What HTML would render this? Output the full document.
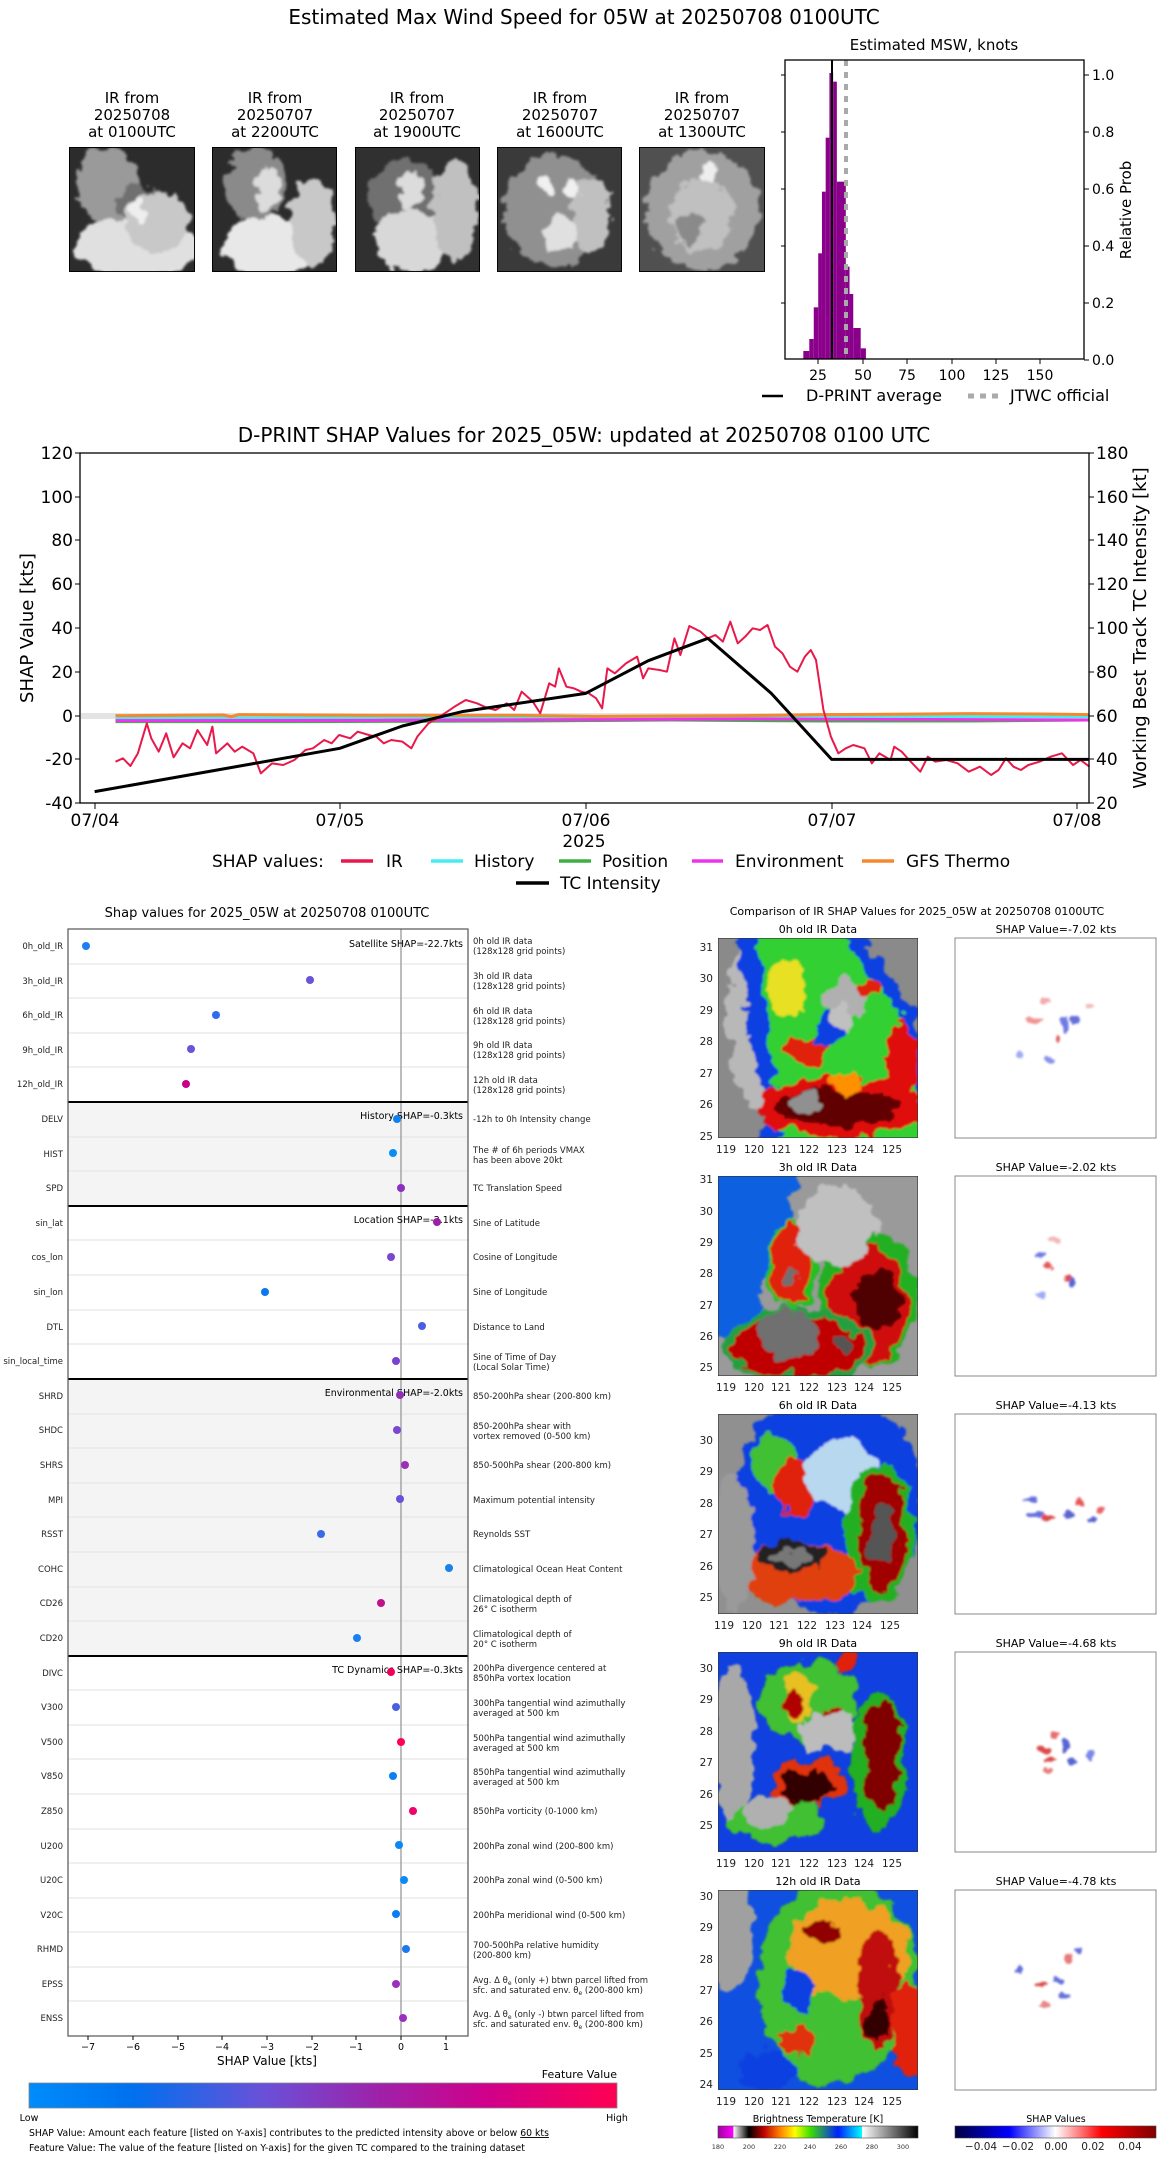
<!DOCTYPE html>
<html><head><meta charset="utf-8">
<style>
html,body{margin:0;padding:0;background:#fff;}
svg{display:block;font-family:"DejaVu Sans","Liberation Sans",sans-serif;}
</style></head>
<body>
<svg width="1168" height="2158" viewBox="0 0 1168 2158" xmlns="http://www.w3.org/2000/svg">
<defs>
<filter id="b1" x="-20%" y="-20%" width="140%" height="140%"><feTurbulence type="fractalNoise" baseFrequency="0.09" numOctaves="3" seed="5" result="n"/><feDisplacementMap in="SourceGraphic" in2="n" scale="14" xChannelSelector="R" yChannelSelector="G"/><feGaussianBlur stdDeviation="1"/></filter>
<filter id="b2" x="-20%" y="-20%" width="140%" height="140%"><feTurbulence type="fractalNoise" baseFrequency="0.1" numOctaves="3" seed="7" result="n"/><feDisplacementMap in="SourceGraphic" in2="n" scale="12" xChannelSelector="R" yChannelSelector="G"/><feGaussianBlur stdDeviation="0.5"/></filter>
<filter id="b3" x="-20%" y="-20%" width="140%" height="140%"><feTurbulence type="fractalNoise" baseFrequency="0.12" numOctaves="2" seed="2" result="n"/><feDisplacementMap in="SourceGraphic" in2="n" scale="8" xChannelSelector="R" yChannelSelector="G"/><feGaussianBlur stdDeviation="1"/></filter>
<linearGradient id="fv" x1="0" x2="1" y1="0" y2="0">
<stop offset="0" stop-color="#008cfa"/><stop offset="0.18" stop-color="#0070ee"/><stop offset="0.4" stop-color="#6a50d8"/><stop offset="0.6" stop-color="#a020a8"/><stop offset="0.78" stop-color="#d0008a"/><stop offset="1" stop-color="#ff0052"/></linearGradient>
<linearGradient id="bt" x1="0" x2="1" y1="0" y2="0">
<stop offset="0" stop-color="#a000a0"/><stop offset="0.076" stop-color="#ff00ff"/><stop offset="0.077" stop-color="#ffffff"/><stop offset="0.154" stop-color="#000000"/><stop offset="0.23" stop-color="#c00000"/><stop offset="0.31" stop-color="#ff8000"/><stop offset="0.385" stop-color="#ffff00"/><stop offset="0.46" stop-color="#40e000"/><stop offset="0.6" stop-color="#0020ff"/><stop offset="0.72" stop-color="#00ffff"/><stop offset="0.721" stop-color="#ffffff"/><stop offset="1" stop-color="#000000"/></linearGradient>
<linearGradient id="sh" x1="0" x2="1" y1="0" y2="0">
<stop offset="0" stop-color="#000040"/><stop offset="0.27" stop-color="#0000ff"/><stop offset="0.5" stop-color="#ffffff"/><stop offset="0.73" stop-color="#ff0000"/><stop offset="1" stop-color="#800000"/></linearGradient>
</defs>

<!-- ===== TOP ===== -->
<text x="584" y="24" font-size="20" text-anchor="middle">Estimated Max Wind Speed for 05W at 20250708 0100UTC</text>
<g font-size="15" text-anchor="middle">
<text x="132" y="103">IR from</text><text x="132" y="120">20250708</text><text x="132" y="137">at 0100UTC</text>
<text x="275" y="103">IR from</text><text x="275" y="120">20250707</text><text x="275" y="137">at 2200UTC</text>
<text x="417" y="103">IR from</text><text x="417" y="120">20250707</text><text x="417" y="137">at 1900UTC</text>
<text x="560" y="103">IR from</text><text x="560" y="120">20250707</text><text x="560" y="137">at 1600UTC</text>
<text x="702" y="103">IR from</text><text x="702" y="120">20250707</text><text x="702" y="137">at 1300UTC</text>
</g>
<svg x="69" y="147" width="126" height="125" viewBox="0 0 100 100" preserveAspectRatio="none"><rect width="100" height="100" fill="#2c2c2c"/><g filter="url(#b1)"><ellipse cx="30" cy="30" rx="25" ry="30" fill="#9a9a9a"/><ellipse cx="55" cy="80" rx="50" ry="25" fill="#e0e0e0"/><ellipse cx="55" cy="45" rx="18" ry="15" fill="#707070"/><ellipse cx="70" cy="60" rx="25" ry="25" fill="#c8c8c8"/><ellipse cx="55" cy="50" rx="5" ry="10" fill="#eeeeee"/></g><rect width="100" height="100" fill="none" stroke="#000" stroke-width="1.5"/></svg>
<svg x="212" y="147" width="125" height="125" viewBox="0 0 100 100" preserveAspectRatio="none"><rect width="100" height="100" fill="#2c2c2c"/><g filter="url(#b1)"><ellipse cx="35" cy="30" rx="25" ry="30" fill="#8a8a8a"/><ellipse cx="45" cy="80" rx="35" ry="25" fill="#e8e8e8"/><ellipse cx="45" cy="35" rx="10" ry="18" fill="#dcdcdc"/><ellipse cx="80" cy="60" rx="18" ry="35" fill="#c8c8c8"/></g><rect width="100" height="100" fill="none" stroke="#000" stroke-width="1.5"/></svg>
<svg x="355" y="147" width="125" height="125" viewBox="0 0 100 100" preserveAspectRatio="none"><rect width="100" height="100" fill="#303030"/><g filter="url(#b1)"><ellipse cx="40" cy="40" rx="30" ry="30" fill="#707070"/><ellipse cx="45" cy="75" rx="30" ry="25" fill="#d8d8d8"/><ellipse cx="45" cy="35" rx="10" ry="15" fill="#dcdcdc"/><ellipse cx="80" cy="50" rx="18" ry="40" fill="#c0c0c0"/></g><rect width="100" height="100" fill="none" stroke="#000" stroke-width="1.5"/></svg>
<svg x="497" y="147" width="125" height="125" viewBox="0 0 100 100" preserveAspectRatio="none"><rect width="100" height="100" fill="#3a3a3a"/><g filter="url(#b1)"><ellipse cx="45" cy="50" rx="40" ry="45" fill="#909090"/><ellipse cx="50" cy="70" rx="15" ry="15" fill="#e0e0e0"/><ellipse cx="40" cy="30" rx="6" ry="8" fill="#f0f0f0"/><ellipse cx="60" cy="33" rx="6" ry="8" fill="#f0f0f0"/><ellipse cx="75" cy="55" rx="15" ry="30" fill="#c0c0c0"/></g><rect width="100" height="100" fill="none" stroke="#000" stroke-width="1.5"/></svg>
<svg x="639" y="147" width="126" height="125" viewBox="0 0 100 100" preserveAspectRatio="none"><rect width="100" height="100" fill="#505050"/><g filter="url(#b1)"><ellipse cx="50" cy="50" rx="45" ry="48" fill="#a0a0a0"/><ellipse cx="50" cy="55" rx="25" ry="30" fill="#c0c0c0"/><ellipse cx="55" cy="20" rx="8" ry="8" fill="#eeeeee"/><ellipse cx="40" cy="65" rx="12" ry="12" fill="#8a8a8a"/></g><rect width="100" height="100" fill="none" stroke="#000" stroke-width="1.5"/></svg>

<text x="934" y="50" font-size="15" text-anchor="middle">Estimated MSW, knots</text>
<g transform="scale(0.7452,0.33333)" fill="#8b008b">
<rect x="1078" y="1053" width="8" height="25"/><rect x="1086" y="1017" width="6" height="61"/><rect x="1092" y="922" width="6" height="156"/><rect x="1098" y="760" width="5" height="318"/><rect x="1103" y="575" width="5" height="503"/><rect x="1108" y="413" width="5" height="665"/><rect x="1113" y="219" width="5" height="859"/><rect x="1118" y="245" width="5" height="833"/><rect x="1123" y="545" width="12" height="533"/><rect x="1135" y="800" width="5" height="278"/><rect x="1140" y="882" width="5" height="196"/><rect x="1145" y="984" width="10" height="94"/><rect x="1155" y="1045" width="7" height="33"/>
</g>
<line x1="832" y1="60" x2="832" y2="359" stroke="#000" stroke-width="2"/>
<line x1="846" y1="60" x2="846" y2="359" stroke="#aaa" stroke-width="4" stroke-dasharray="6,6"/>
<rect x="785" y="60" width="299" height="299" fill="none" stroke="#000" stroke-width="1.3"/>
<g stroke="#000" stroke-width="1">
<line x1="1084" y1="75" x2="1089" y2="75"/><line x1="1084" y1="132" x2="1089" y2="132"/><line x1="1084" y1="189" x2="1089" y2="189"/><line x1="1084" y1="246" x2="1089" y2="246"/><line x1="1084" y1="303" x2="1089" y2="303"/><line x1="1084" y1="360" x2="1089" y2="360"/>
<line x1="785" y1="75" x2="781" y2="75"/><line x1="785" y1="132" x2="781" y2="132"/><line x1="785" y1="189" x2="781" y2="189"/><line x1="785" y1="246" x2="781" y2="246"/><line x1="785" y1="303" x2="781" y2="303"/>
<line x1="818" y1="359" x2="818" y2="364"/><line x1="863" y1="359" x2="863" y2="364"/><line x1="907" y1="359" x2="907" y2="364"/><line x1="952" y1="359" x2="952" y2="364"/><line x1="996" y1="359" x2="996" y2="364"/><line x1="1040" y1="359" x2="1040" y2="364"/>
</g>
<g font-size="14">
<text x="1092" y="80">1.0</text><text x="1092" y="137">0.8</text><text x="1092" y="194">0.6</text><text x="1092" y="251">0.4</text><text x="1092" y="308">0.2</text><text x="1092" y="365">0.0</text>
<g text-anchor="middle"><text x="818" y="380">25</text><text x="863" y="380">50</text><text x="907" y="380">75</text><text x="952" y="380">100</text><text x="996" y="380">125</text><text x="1040" y="380">150</text></g>
<text transform="translate(1131,210) rotate(-90)" text-anchor="middle" font-size="15">Relative Prob</text>
</g>
<line x1="762" y1="396" x2="783" y2="396" stroke="#000" stroke-width="2.5"/>
<text x="806" y="401" font-size="16">D-PRINT average</text>
<line x1="968" y1="396" x2="1000" y2="396" stroke="#aaa" stroke-width="5" stroke-dasharray="6,6"/>
<text x="1010" y="401" font-size="16">JTWC official</text>

<!-- ===== TIME SERIES ===== -->
<text x="584" y="442" font-size="20" text-anchor="middle">D-PRINT SHAP Values for 2025_05W: updated at 20250708 0100 UTC</text>
<rect x="81" y="713" width="1008" height="6" fill="#e4e4e4"/>
<g transform="translate(0,420) scale(0.7452,0.33333)" fill="none" stroke-linejoin="round">
<polyline vector-effect="non-scaling-stroke" stroke="#4ee" stroke-width="3" points="155,894 700,894 900,890 1100,888 1350,890 1462,890"/>
<polyline vector-effect="non-scaling-stroke" stroke="#3cb043" stroke-width="3" points="155,905 400,905 700,903 900,900 1100,903 1300,903 1462,900"/>
<polyline vector-effect="non-scaling-stroke" stroke="#ee33ee" stroke-width="3" points="155,902 500,901 800,899 1000,897 1200,898 1462,900"/>
<polyline vector-effect="non-scaling-stroke" stroke="#f5882e" stroke-width="3" points="155,887 300,885 310,890 320,884 500,886 700,886 800,889 1000,887 1100,884 1300,881 1400,882 1462,884"/>
<polyline vector-effect="non-scaling-stroke" stroke="#e8194a" stroke-width="2" points="155,1025 165,1015 175,1038 185,1000 197,910 203,955 213,995 223,940 233,1012 245,970 255,985 265,930 278,975 285,920 290,1000 305,970 315,995 325,980 340,1000 350,1060 365,1030 380,1035 395,1020 410,990 420,985 435,960 445,970 455,945 470,955 480,935 495,945 505,950 515,970 525,960 540,965 552,985 560,950 575,910 590,890 610,860 625,840 640,850 655,865 665,870 680,850 690,870 700,815 715,845 725,880 737,790 745,800 750,745 760,800 770,805 780,815 790,820 800,835 808,865 815,745 825,760 840,730 855,710 863,775 870,745 885,750 895,755 905,655 913,705 925,618 940,635 950,655 960,645 970,665 980,605 990,670 1000,650 1010,625 1020,630 1030,615 1040,680 1050,700 1060,740 1070,755 1080,710 1088,690 1095,720 1105,870 1115,950 1125,1000 1135,985 1145,975 1160,985 1170,1030 1180,1000 1195,1020 1200,980 1210,995 1220,1020 1235,1055 1245,1010 1255,1025 1270,1020 1285,1030 1300,1055 1315,1040 1330,1065 1340,1050 1350,1015 1360,1040 1370,1050 1380,1035 1395,1025 1410,1010 1425,1000 1440,1035 1450,1020 1462,1040"/>
<polyline vector-effect="non-scaling-stroke" stroke="#000" stroke-width="3" points="127,1115 456,985 540,918 620,875 786,820 870,722 950,655 1035,820 1116,1018 1462,1018"/>
</g>
<rect x="80" y="453" width="1009" height="350" fill="none" stroke="#000" stroke-width="1.3"/>
<g stroke="#000" stroke-width="1">
<line x1="80" y1="453" x2="75" y2="453"/><line x1="80" y1="497" x2="75" y2="497"/><line x1="80" y1="540" x2="75" y2="540"/><line x1="80" y1="584" x2="75" y2="584"/><line x1="80" y1="628" x2="75" y2="628"/><line x1="80" y1="672" x2="75" y2="672"/><line x1="80" y1="716" x2="75" y2="716"/><line x1="80" y1="759" x2="75" y2="759"/><line x1="80" y1="803" x2="75" y2="803"/>
<line x1="1089" y1="453" x2="1094" y2="453"/><line x1="1089" y1="497" x2="1094" y2="497"/><line x1="1089" y1="540" x2="1094" y2="540"/><line x1="1089" y1="584" x2="1094" y2="584"/><line x1="1089" y1="628" x2="1094" y2="628"/><line x1="1089" y1="672" x2="1094" y2="672"/><line x1="1089" y1="716" x2="1094" y2="716"/><line x1="1089" y1="759" x2="1094" y2="759"/><line x1="1089" y1="803" x2="1094" y2="803"/>
<line x1="95" y1="803" x2="95" y2="809"/><line x1="340" y1="803" x2="340" y2="809"/><line x1="586" y1="803" x2="586" y2="809"/><line x1="832" y1="803" x2="832" y2="809"/><line x1="1077" y1="803" x2="1077" y2="809"/>
</g>
<g font-size="17">
<g text-anchor="end"><text x="73" y="459">120</text><text x="73" y="503">100</text><text x="73" y="546">80</text><text x="73" y="590">60</text><text x="73" y="634">40</text><text x="73" y="678">20</text><text x="73" y="722">0</text><text x="73" y="765">-20</text><text x="73" y="809">-40</text></g>
<text x="1096" y="459">180</text><text x="1096" y="503">160</text><text x="1096" y="546">140</text><text x="1096" y="590">120</text><text x="1096" y="634">100</text><text x="1096" y="678">80</text><text x="1096" y="722">60</text><text x="1096" y="765">40</text><text x="1096" y="809">20</text>
<g text-anchor="middle"><text x="95" y="826">07/04</text><text x="340" y="826">07/05</text><text x="586" y="826">07/06</text><text x="832" y="826">07/07</text><text x="1077" y="826">07/08</text><text x="584" y="847">2025</text></g>
<text transform="translate(33,628) rotate(-90)" text-anchor="middle" font-size="18">SHAP Value [kts]</text>
<text transform="translate(1146,628) rotate(-90)" text-anchor="middle" font-size="18">Working Best Track TC Intensity [kt]</text>
<text x="212" y="867">SHAP values:</text>
<text x="386" y="867">IR</text><text x="474" y="867">History</text><text x="602" y="867">Position</text><text x="735" y="867">Environment</text><text x="906" y="867">GFS Thermo</text><text x="560" y="889">TC Intensity</text>
</g>
<g stroke-width="3.5"><line x1="341" y1="861" x2="373" y2="861" stroke="#e8194a"/><line x1="431" y1="861" x2="463" y2="861" stroke="#4ee"/><line x1="559" y1="861" x2="591" y2="861" stroke="#3cb043"/><line x1="692" y1="861" x2="723" y2="861" stroke="#ee33ee"/><line x1="862" y1="861" x2="894" y2="861" stroke="#f5882e"/><line x1="516" y1="883" x2="549" y2="883" stroke="#000"/></g>

<!-- ===== SHAP DOT PANEL ===== -->
<text x="267" y="917" font-size="13" text-anchor="middle">Shap values for 2025_05W at 20250708 0100UTC</text>
<rect x="68" y="1102" width="400" height="104" fill="#f4f4f4"/>
<rect x="68" y="1379" width="400" height="277" fill="#f4f4f4"/>
<g stroke="#e2e2e2" stroke-width="1">
<line x1="68" y1="964" x2="468" y2="964"/><line x1="68" y1="998" x2="468" y2="998"/><line x1="68" y1="1033" x2="468" y2="1033"/><line x1="68" y1="1067" x2="468" y2="1067"/>
<line x1="68" y1="1137" x2="468" y2="1137"/><line x1="68" y1="1171" x2="468" y2="1171"/>
<line x1="68" y1="1240" x2="468" y2="1240"/><line x1="68" y1="1275" x2="468" y2="1275"/><line x1="68" y1="1310" x2="468" y2="1310"/><line x1="68" y1="1344" x2="468" y2="1344"/>
<line x1="68" y1="1414" x2="468" y2="1414"/><line x1="68" y1="1448" x2="468" y2="1448"/><line x1="68" y1="1483" x2="468" y2="1483"/><line x1="68" y1="1517" x2="468" y2="1517"/><line x1="68" y1="1552" x2="468" y2="1552"/><line x1="68" y1="1587" x2="468" y2="1587"/><line x1="68" y1="1621" x2="468" y2="1621"/>
<line x1="68" y1="1690" x2="468" y2="1690"/><line x1="68" y1="1725" x2="468" y2="1725"/><line x1="68" y1="1759" x2="468" y2="1759"/><line x1="68" y1="1794" x2="468" y2="1794"/><line x1="68" y1="1829" x2="468" y2="1829"/><line x1="68" y1="1863" x2="468" y2="1863"/><line x1="68" y1="1898" x2="468" y2="1898"/><line x1="68" y1="1932" x2="468" y2="1932"/><line x1="68" y1="1967" x2="468" y2="1967"/><line x1="68" y1="2001" x2="468" y2="2001"/>
</g>
<line x1="401" y1="929" x2="401" y2="2036" stroke="#999" stroke-width="1.3"/>
<g stroke="#000" stroke-width="2"><line x1="68" y1="1102" x2="468" y2="1102"/><line x1="68" y1="1206" x2="468" y2="1206"/><line x1="68" y1="1379" x2="468" y2="1379"/><line x1="68" y1="1656" x2="468" y2="1656"/></g>
<rect x="68" y="929" width="400" height="1107" fill="none" stroke="#555" stroke-width="1.2"/>
<g font-size="9.5" text-anchor="end">
<text x="463" y="947">Satellite SHAP=-22.7kts</text><text x="463" y="1119">History SHAP=-0.3kts</text><text x="463" y="1223">Location SHAP=-2.1kts</text><text x="463" y="1396">Environmental SHAP=-2.0kts</text><text x="463" y="1673">TC Dynamics SHAP=-0.3kts</text>
</g>
<g font-size="8.5" text-anchor="end" fill="#222">
<text x="63" y="949">0h_old_IR</text><text x="63" y="984">3h_old_IR</text><text x="63" y="1018">6h_old_IR</text><text x="63" y="1053">9h_old_IR</text><text x="63" y="1087">12h_old_IR</text>
<text x="63" y="1122">DELV</text><text x="63" y="1157">HIST</text><text x="63" y="1191">SPD</text>
<text x="63" y="1226">sin_lat</text><text x="63" y="1260">cos_lon</text><text x="63" y="1295">sin_lon</text><text x="63" y="1330">DTL</text><text x="63" y="1364">sin_local_time</text>
<text x="63" y="1399">SHRD</text><text x="63" y="1433">SHDC</text><text x="63" y="1468">SHRS</text><text x="63" y="1503">MPI</text><text x="63" y="1537">RSST</text><text x="63" y="1572">COHC</text><text x="63" y="1606">CD26</text><text x="63" y="1641">CD20</text>
<text x="63" y="1676">DIVC</text><text x="63" y="1710">V300</text><text x="63" y="1745">V500</text><text x="63" y="1779">V850</text><text x="63" y="1814">Z850</text><text x="63" y="1849">U200</text><text x="63" y="1883">U20C</text><text x="63" y="1918">V20C</text><text x="63" y="1952">RHMD</text><text x="63" y="1987">EPSS</text><text x="63" y="2021">ENSS</text>
</g>
<g font-size="8.5" fill="#222">
<text x="473" y="944">0h old IR data</text><text x="473" y="954">(128x128 grid points)</text>
<text x="473" y="979">3h old IR data</text><text x="473" y="989">(128x128 grid points)</text>
<text x="473" y="1014">6h old IR data</text><text x="473" y="1024">(128x128 grid points)</text>
<text x="473" y="1048">9h old IR data</text><text x="473" y="1058">(128x128 grid points)</text>
<text x="473" y="1083">12h old IR data</text><text x="473" y="1093">(128x128 grid points)</text>
<text x="473" y="1122">-12h to 0h Intensity change</text>
<text x="473" y="1153">The # of 6h periods VMAX</text><text x="473" y="1163">has been above 20kt</text>
<text x="473" y="1191">TC Translation Speed</text>
<text x="473" y="1226">Sine of Latitude</text><text x="473" y="1260">Cosine of Longitude</text><text x="473" y="1295">Sine of Longitude</text><text x="473" y="1330">Distance to Land</text>
<text x="473" y="1360">Sine of Time of Day</text><text x="473" y="1370">(Local Solar Time)</text>
<text x="473" y="1399">850-200hPa shear (200-800 km)</text>
<text x="473" y="1429">850-200hPa shear with</text><text x="473" y="1439">vortex removed (0-500 km)</text>
<text x="473" y="1468">850-500hPa shear (200-800 km)</text>
<text x="473" y="1503">Maximum potential intensity</text>
<text x="473" y="1537">Reynolds SST</text>
<text x="473" y="1572">Climatological Ocean Heat Content</text>
<text x="473" y="1602">Climatological depth of</text><text x="473" y="1612">26° C isotherm</text>
<text x="473" y="1637">Climatological depth of</text><text x="473" y="1647">20° C isotherm</text>
<text x="473" y="1671">200hPa divergence centered at</text><text x="473" y="1681">850hPa vortex location</text>
<text x="473" y="1706">300hPa tangential wind azimuthally</text><text x="473" y="1716">averaged at 500 km</text>
<text x="473" y="1741">500hPa tangential wind azimuthally</text><text x="473" y="1751">averaged at 500 km</text>
<text x="473" y="1775">850hPa tangential wind azimuthally</text><text x="473" y="1785">averaged at 500 km</text>
<text x="473" y="1814">850hPa vorticity (0-1000 km)</text>
<text x="473" y="1849">200hPa zonal wind (200-800 km)</text>
<text x="473" y="1883">200hPa zonal wind (0-500 km)</text>
<text x="473" y="1918">200hPa meridional wind (0-500 km)</text>
<text x="473" y="1948">700-500hPa relative humidity</text><text x="473" y="1958">(200-800 km)</text>
<text x="473" y="1983">Avg. Δ θ<tspan font-size="6" dy="2">e</tspan><tspan dy="-2"> (only +) btwn parcel lifted from</tspan></text><text x="473" y="1993">sfc. and saturated env. θ<tspan font-size="6" dy="2">e</tspan><tspan dy="-2"> (200-800 km)</tspan></text>
<text x="473" y="2017">Avg. Δ θ<tspan font-size="6" dy="2">e</tspan><tspan dy="-2"> (only -) btwn parcel lifted from</tspan></text><text x="473" y="2027">sfc. and saturated env. θ<tspan font-size="6" dy="2">e</tspan><tspan dy="-2"> (200-800 km)</tspan></text>
</g>
<g>
<circle cx="86" cy="946" r="4" fill="#1e7ef0"/><circle cx="310" cy="980" r="4" fill="#6b52d9"/><circle cx="216" cy="1015" r="4" fill="#2f6cf0"/><circle cx="191" cy="1049" r="4" fill="#6b52d9"/><circle cx="186" cy="1084" r="4" fill="#c8008a"/>
<circle cx="397" cy="1119" r="4" fill="#0a82f5"/><circle cx="393" cy="1153" r="4" fill="#0a8cf5"/><circle cx="401" cy="1188" r="4" fill="#8a30c0"/>
<circle cx="437" cy="1222" r="4" fill="#9a20a8"/><circle cx="391" cy="1257" r="4" fill="#7a48d0"/><circle cx="265" cy="1292" r="4" fill="#0a78f0"/><circle cx="422" cy="1326" r="4" fill="#4a5ee0"/><circle cx="396" cy="1361" r="4" fill="#7a40d0"/>
<circle cx="400" cy="1395" r="4" fill="#9030b8"/><circle cx="397" cy="1430" r="4" fill="#7a48d0"/><circle cx="405" cy="1465" r="4" fill="#9a30b8"/><circle cx="400" cy="1499" r="4" fill="#6a52d8"/><circle cx="321" cy="1534" r="4" fill="#3a6ae8"/><circle cx="449" cy="1568" r="4" fill="#1a80f0"/><circle cx="381" cy="1603" r="4" fill="#c0108a"/><circle cx="357" cy="1638" r="4" fill="#1a80f0"/>
<circle cx="391" cy="1672" r="4" fill="#f00058"/><circle cx="396" cy="1707" r="4" fill="#4a60e0"/><circle cx="401" cy="1742" r="4" fill="#ff0055"/><circle cx="393" cy="1776" r="4" fill="#0a80f5"/><circle cx="413" cy="1811" r="4" fill="#f0006a"/><circle cx="399" cy="1845" r="4" fill="#0a88f5"/><circle cx="404" cy="1880" r="4" fill="#0a8af5"/><circle cx="396" cy="1914" r="4" fill="#0a7ef0"/><circle cx="406" cy="1949" r="4" fill="#1a78f0"/><circle cx="396" cy="1984" r="4" fill="#9a30c0"/><circle cx="403" cy="2018" r="4" fill="#9a30c0"/>
</g>
<g stroke="#000" stroke-width="1"><line x1="88" y1="2036" x2="88" y2="2040"/><line x1="133" y1="2036" x2="133" y2="2040"/><line x1="178" y1="2036" x2="178" y2="2040"/><line x1="222" y1="2036" x2="222" y2="2040"/><line x1="267" y1="2036" x2="267" y2="2040"/><line x1="312" y1="2036" x2="312" y2="2040"/><line x1="356" y1="2036" x2="356" y2="2040"/><line x1="401" y1="2036" x2="401" y2="2040"/><line x1="446" y1="2036" x2="446" y2="2040"/></g>
<g font-size="9.5" text-anchor="middle"><text x="88" y="2050">−7</text><text x="133" y="2050">−6</text><text x="178" y="2050">−5</text><text x="222" y="2050">−4</text><text x="267" y="2050">−3</text><text x="312" y="2050">−2</text><text x="356" y="2050">−1</text><text x="401" y="2050">0</text><text x="446" y="2050">1</text></g>
<text x="267" y="2065" font-size="12" text-anchor="middle">SHAP Value [kts]</text>
<text x="617" y="2078" font-size="11" text-anchor="end">Feature Value</text>
<rect x="29" y="2083" width="588" height="25" fill="url(#fv)" stroke="#888" stroke-width="0.8"/>
<text x="29" y="2121" font-size="9.5" text-anchor="middle">Low</text><text x="617" y="2121" font-size="9.5" text-anchor="middle">High</text>
<text x="29" y="2136" font-size="9.3">SHAP Value: Amount each feature [listed on Y-axis] contributes to the predicted intensity above or below <tspan text-decoration="underline">60 kts</tspan></text>
<text x="29" y="2151" font-size="9.3">Feature Value: The value of the feature [listed on Y-axis] for the given TC compared to the training dataset</text>

<!-- ===== IR COMPARISON ===== -->
<text x="917" y="915" font-size="11" text-anchor="middle">Comparison of IR SHAP Values for 2025_05W at 20250708 0100UTC</text>
<g font-size="11" text-anchor="middle">
<text x="818" y="933">0h old IR Data</text><text x="1056" y="933">SHAP Value=-7.02 kts</text>
<text x="818" y="1171">3h old IR Data</text><text x="1056" y="1171">SHAP Value=-2.02 kts</text>
<text x="818" y="1409">6h old IR Data</text><text x="1056" y="1409">SHAP Value=-4.13 kts</text>
<text x="818" y="1647">9h old IR Data</text><text x="1056" y="1647">SHAP Value=-4.68 kts</text>
<text x="818" y="1885">12h old IR Data</text><text x="1056" y="1885">SHAP Value=-4.78 kts</text>
</g>

<svg x="718" y="938" width="200" height="200" viewBox="0 0 100 100" preserveAspectRatio="none"><rect width="100" height="100" fill="#8a8a8a"/><g filter="url(#b2)">
<ellipse cx="20" cy="40" rx="15" ry="45" fill="#b8b8b8"/><path d="M10 -5 L70 -5 L100 40 L105 105 L20 105 L25 80 L15 50 Z" fill="#1040e0"/><path d="M20 -5 L60 -5 L95 45 L105 105 L30 105 L30 80 L25 50 Z" fill="#30d030"/><ellipse cx="35" cy="25" rx="10" ry="15" fill="#e8e020"/><ellipse cx="65" cy="30" rx="12" ry="10" fill="#b0b0b0"/><ellipse cx="45" cy="56" rx="12" ry="7" fill="#e02010"/><ellipse cx="75" cy="24" rx="5" ry="4" fill="#e02010"/><ellipse cx="62" cy="85" rx="42" ry="15" fill="#e01010"/><ellipse cx="92" cy="65" rx="8" ry="25" fill="#e01010"/><ellipse cx="60" cy="85" rx="32" ry="9" fill="#600000"/><ellipse cx="45" cy="82" rx="8" ry="4" fill="#909090"/><ellipse cx="64" cy="72" rx="7" ry="5" fill="#ff9000"/><ellipse cx="55" cy="48" rx="6" ry="10" fill="#1040e0"/><ellipse cx="62" cy="40" rx="4" ry="6" fill="#c0c0c0"/></g>
<rect width="100" height="100" fill="none" stroke="#333" stroke-width="0.6"/></svg>
<svg x="718" y="1176" width="200" height="200" viewBox="0 0 100 100" preserveAspectRatio="none"><rect width="100" height="100" fill="#9a9a9a"/><g filter="url(#b2)">
<path d="M-5 -5 L40 -5 L35 30 L20 60 L30 80 L-5 80 Z" fill="#1060e0"/><ellipse cx="37" cy="45" rx="13" ry="22" fill="#20c020"/><ellipse cx="36" cy="45" rx="10" ry="20" fill="#e02010"/><ellipse cx="36" cy="52" rx="4" ry="4" fill="#707070"/><ellipse cx="75" cy="62" rx="25" ry="35" fill="#20b020"/><ellipse cx="75" cy="65" rx="20" ry="30" fill="#d01010"/><ellipse cx="80" cy="62" rx="12" ry="15" fill="#500000"/><ellipse cx="40" cy="85" rx="38" ry="18" fill="#20a040"/><ellipse cx="40" cy="86" rx="33" ry="15" fill="#c00000"/><ellipse cx="35" cy="80" rx="15" ry="12" fill="#707070"/><ellipse cx="64" cy="82" rx="4" ry="5" fill="#555"/><ellipse cx="60" cy="25" rx="20" ry="20" fill="#c0c0c0"/></g>
<rect width="100" height="100" fill="none" stroke="#333" stroke-width="0.6"/></svg>
<svg x="718" y="1414" width="200" height="200" viewBox="0 0 100 100" preserveAspectRatio="none"><rect width="100" height="100" fill="#909090"/><g filter="url(#b2)">
<ellipse cx="55" cy="45" rx="48" ry="55" fill="#1040e0"/><ellipse cx="28" cy="25" rx="12" ry="15" fill="#40c030"/><ellipse cx="38" cy="37" rx="10" ry="14" fill="#e02010"/><ellipse cx="62" cy="30" rx="18" ry="18" fill="#b8d8f0"/><ellipse cx="80" cy="60" rx="18" ry="35" fill="#20b020"/><ellipse cx="82" cy="60" rx="12" ry="30" fill="#a00000"/><ellipse cx="82" cy="60" rx="7" ry="15" fill="#555"/><ellipse cx="40" cy="80" rx="30" ry="15" fill="#e04010"/><ellipse cx="38" cy="72" rx="18" ry="7" fill="#222"/><ellipse cx="38" cy="72" rx="10" ry="4" fill="#777"/><ellipse cx="8" cy="65" rx="10" ry="35" fill="#9a9a9a"/></g>
<rect width="100" height="100" fill="none" stroke="#333" stroke-width="0.6"/></svg>
<svg x="718" y="1652" width="200" height="200" viewBox="0 0 100 100" preserveAspectRatio="none"><rect width="100" height="100" fill="#1040e0"/><g filter="url(#b2)">
<ellipse cx="8" cy="45" rx="10" ry="40" fill="#a8a8a8"/><ellipse cx="45" cy="25" rx="25" ry="20" fill="#40c030"/><ellipse cx="40" cy="22" rx="8" ry="12" fill="#e8c020"/><ellipse cx="38" cy="26" rx="6" ry="6" fill="#b00000"/><ellipse cx="58" cy="32" rx="5" ry="5" fill="#b00000"/><ellipse cx="55" cy="40" rx="15" ry="10" fill="#bcbcbc"/><ellipse cx="80" cy="55" rx="14" ry="35" fill="#20b020"/><ellipse cx="82" cy="52" rx="9" ry="28" fill="#800000"/><ellipse cx="45" cy="66" rx="18" ry="12" fill="#e03010"/><ellipse cx="45" cy="68" rx="14" ry="9" fill="#300000"/><ellipse cx="30" cy="85" rx="25" ry="10" fill="#40c030"/><ellipse cx="25" cy="80" rx="12" ry="8" fill="#b0b0b0"/><ellipse cx="65" cy="5" rx="6" ry="5" fill="#e02010"/></g>
<rect width="100" height="100" fill="none" stroke="#333" stroke-width="0.6"/></svg>
<svg x="718" y="1890" width="200" height="200" viewBox="0 0 100 100" preserveAspectRatio="none"><rect width="100" height="100" fill="#1050e0"/><g filter="url(#b2)">
<ellipse cx="5" cy="20" rx="12" ry="30" fill="#a0a0a0"/><ellipse cx="60" cy="45" rx="40" ry="50" fill="#40c030"/><ellipse cx="65" cy="30" rx="30" ry="25" fill="#f0a020"/><ellipse cx="52" cy="20" rx="8" ry="5" fill="#900000"/><ellipse cx="80" cy="50" rx="10" ry="30" fill="#c01010"/><ellipse cx="80" cy="65" rx="6" ry="10" fill="#300000"/><ellipse cx="95" cy="70" rx="8" ry="25" fill="#e02010"/><ellipse cx="40" cy="75" rx="10" ry="6" fill="#e03010"/><ellipse cx="50" cy="90" rx="15" ry="8" fill="#40c030"/><ellipse cx="40" cy="50" rx="8" ry="10" fill="#1040e0"/><ellipse cx="25" cy="90" rx="15" ry="10" fill="#1040e0"/></g>
<rect width="100" height="100" fill="none" stroke="#333" stroke-width="0.6"/></svg>

<!-- SHAP panels -->
<g>
<rect x="955" y="938" width="201" height="200" fill="#fff" stroke="#888" stroke-width="1"/>
<rect x="955" y="1176" width="201" height="200" fill="#fff" stroke="#888" stroke-width="1"/>
<rect x="955" y="1414" width="201" height="200" fill="#fff" stroke="#888" stroke-width="1"/>
<rect x="955" y="1652" width="201" height="200" fill="#fff" stroke="#888" stroke-width="1"/>
<rect x="955" y="1890" width="201" height="200" fill="#fff" stroke="#888" stroke-width="1"/>
<g filter="url(#b3)" opacity="0.75">
<ellipse cx="1035" cy="1020" rx="8" ry="3" fill="#f07070"/><ellipse cx="1065" cy="1025" rx="4" ry="9" fill="#4050e0"/><ellipse cx="1075" cy="1020" rx="5" ry="4" fill="#3040d0"/><ellipse cx="1050" cy="1060" rx="5" ry="3" fill="#6070e0"/><ellipse cx="1058" cy="1040" rx="3" ry="3" fill="#d03030"/><ellipse cx="1045" cy="1000" rx="5" ry="3" fill="#f09090"/><ellipse cx="1020" cy="1055" rx="4" ry="3" fill="#8090f0"/><ellipse cx="1090" cy="1005" rx="4" ry="3" fill="#f0a0a0"/>
<ellipse cx="1048" cy="1265" rx="4" ry="3" fill="#e02020"/><ellipse cx="1068" cy="1278" rx="4" ry="3" fill="#d01010"/><ellipse cx="1072" cy="1282" rx="4" ry="5" fill="#2030c0"/><ellipse cx="1040" cy="1255" rx="4" ry="3" fill="#4050e0"/><ellipse cx="1055" cy="1240" rx="6" ry="3" fill="#f0a0a0"/><ellipse cx="1040" cy="1295" rx="6" ry="3" fill="#8090f0"/>
<ellipse cx="1030" cy="1500" rx="7" ry="2" fill="#3040d0"/><ellipse cx="1035" cy="1515" rx="8" ry="3" fill="#3040d0"/><ellipse cx="1048" cy="1518" rx="7" ry="3" fill="#d01010"/><ellipse cx="1070" cy="1515" rx="5" ry="4" fill="#2030c0"/><ellipse cx="1080" cy="1503" rx="5" ry="3" fill="#e02020"/><ellipse cx="1092" cy="1520" rx="6" ry="3" fill="#2030c0"/><ellipse cx="1100" cy="1510" rx="4" ry="3" fill="#e03030"/>
<ellipse cx="1045" cy="1750" rx="7" ry="3" fill="#d01010"/><ellipse cx="1050" cy="1760" rx="6" ry="3" fill="#d01010"/><ellipse cx="1065" cy="1745" rx="4" ry="7" fill="#2030c0"/><ellipse cx="1055" cy="1735" rx="4" ry="4" fill="#e04040"/><ellipse cx="1072" cy="1762" rx="5" ry="3" fill="#2030c0"/><ellipse cx="1090" cy="1755" rx="4" ry="5" fill="#5060e0"/><ellipse cx="1048" cy="1770" rx="5" ry="3" fill="#e05050"/>
<ellipse cx="1020" cy="1970" rx="4" ry="3" fill="#3040d0"/><ellipse cx="1040" cy="1985" rx="7" ry="3" fill="#d01010"/><ellipse cx="1060" cy="1980" rx="5" ry="3" fill="#3040d0"/><ellipse cx="1065" cy="1995" rx="6" ry="3" fill="#3040d0"/><ellipse cx="1068" cy="1960" rx="4" ry="5" fill="#e05050"/><ellipse cx="1078" cy="1950" rx="4" ry="4" fill="#3040d0"/><ellipse cx="1045" cy="2005" rx="5" ry="3" fill="#e06060"/>
</g>
</g>

<g font-size="10.5" text-anchor="end" fill="#222">
<text x="713" y="951">31</text><text x="713" y="982">30</text><text x="713" y="1014">29</text><text x="713" y="1045">28</text><text x="713" y="1077">27</text><text x="713" y="1108">26</text><text x="713" y="1140">25</text>
<text x="713" y="1183">31</text><text x="713" y="1215">30</text><text x="713" y="1246">29</text><text x="713" y="1277">28</text><text x="713" y="1309">27</text><text x="713" y="1340">26</text><text x="713" y="1371">25</text>
<text x="713" y="1444">30</text><text x="713" y="1475">29</text><text x="713" y="1507">28</text><text x="713" y="1538">27</text><text x="713" y="1570">26</text><text x="713" y="1601">25</text>
<text x="713" y="1672">30</text><text x="713" y="1703">29</text><text x="713" y="1735">28</text><text x="713" y="1766">27</text><text x="713" y="1798">26</text><text x="713" y="1829">25</text>
<text x="713" y="1900">30</text><text x="713" y="1931">29</text><text x="713" y="1963">28</text><text x="713" y="1994">27</text><text x="713" y="2025">26</text><text x="713" y="2057">25</text><text x="713" y="2088">24</text>
</g>
<g font-size="10.5" text-anchor="middle" fill="#222">
<text x="726" y="1153">119</text><text x="754" y="1153">120</text><text x="781" y="1153">121</text><text x="809" y="1153">122</text><text x="837" y="1153">123</text><text x="864" y="1153">124</text><text x="892" y="1153">125</text>
<text x="726" y="1391">119</text><text x="754" y="1391">120</text><text x="781" y="1391">121</text><text x="809" y="1391">122</text><text x="837" y="1391">123</text><text x="864" y="1391">124</text><text x="892" y="1391">125</text>
<text x="724" y="1629">119</text><text x="752" y="1629">120</text><text x="779" y="1629">121</text><text x="807" y="1629">122</text><text x="835" y="1629">123</text><text x="862" y="1629">124</text><text x="890" y="1629">125</text>
<text x="726" y="1867">119</text><text x="754" y="1867">120</text><text x="781" y="1867">121</text><text x="809" y="1867">122</text><text x="837" y="1867">123</text><text x="864" y="1867">124</text><text x="892" y="1867">125</text>
<text x="726" y="2105">119</text><text x="754" y="2105">120</text><text x="781" y="2105">121</text><text x="809" y="2105">122</text><text x="837" y="2105">123</text><text x="864" y="2105">124</text><text x="892" y="2105">125</text>
</g>

<text x="818" y="2122" font-size="9.5" text-anchor="middle">Brightness Temperature [K]</text>
<rect x="718" y="2126" width="200" height="12" fill="url(#bt)" stroke="#444" stroke-width="0.6"/>
<g font-size="6.5" text-anchor="middle" fill="#333"><text x="718" y="2149">180</text><text x="749" y="2149">200</text><text x="780" y="2149">220</text><text x="810" y="2149">240</text><text x="841" y="2149">260</text><text x="872" y="2149">280</text><text x="903" y="2149">300</text></g>
<text x="1056" y="2122" font-size="9.5" text-anchor="middle">SHAP Values</text>
<rect x="955" y="2126" width="201" height="12" fill="url(#sh)" stroke="#444" stroke-width="0.6"/>
<g font-size="10.5" text-anchor="middle" fill="#222"><text x="981" y="2150">−0.04</text><text x="1018" y="2150">−0.02</text><text x="1056" y="2150">0.00</text><text x="1093" y="2150">0.02</text><text x="1130" y="2150">0.04</text></g>
</svg>
</body></html>
